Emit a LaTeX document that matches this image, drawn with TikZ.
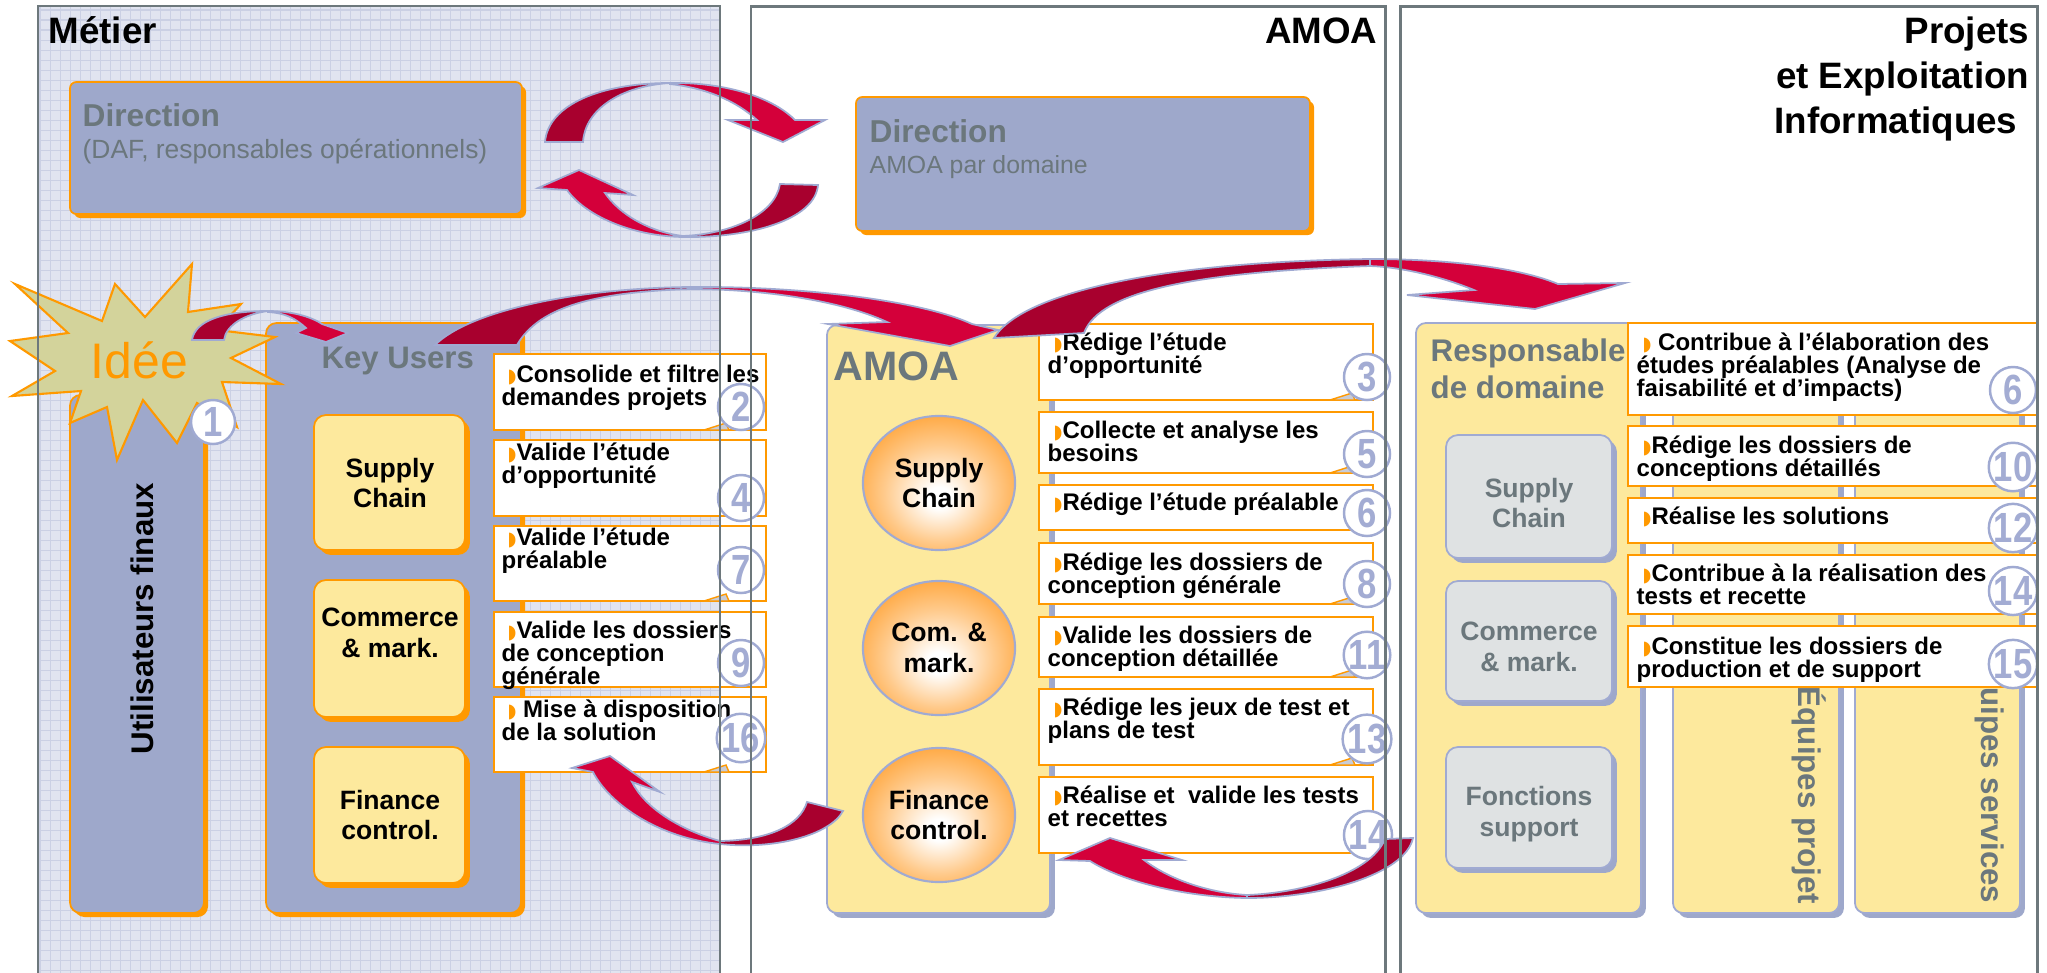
\documentclass[tikz,border=0pt]{standalone}
\usepackage{fontspec}
\usepackage{graphicx}
\setmainfont{Liberation Sans}
\newfontfamily\dejavu{DejaVu Sans}
\newfontfamily\narrowsans[FakeStretch=0.82]{Liberation Sans}
\usetikzlibrary{shadows,shapes.geometric}
\tikzset{>=latex}

\definecolor{lav}{HTML}{9EA8CB}
\definecolor{lavline}{HTML}{A0AAD2}
\definecolor{lavnum}{HTML}{A3ACD3}
\definecolor{orng}{HTML}{FF9900}
\definecolor{yel}{HTML}{FDE99D}
\definecolor{gtext}{HTML}{6B777C}
\definecolor{panelline}{HTML}{6D787C}
\definecolor{metierbg}{HTML}{E1E4F0}
\definecolor{gridcol}{HTML}{CBD0E4}
\definecolor{adark}{HTML}{A8002E}
\definecolor{alight}{HTML}{D4003A}
\definecolor{khaki}{HTML}{D3D39B}
\definecolor{greyfill}{HTML}{DFE2E3}
\definecolor{corange}{HTML}{FF961A}
\definecolor{tailgrey}{HTML}{C9CCD6}

\pgfdeclareradialshading{ballorange}{\pgfpoint{0bp}{-6bp}}{color(0bp)=(white); color(4bp)=(white); color(18bp)=(corange!50!white); color(34bp)=(corange); color(50bp)=(corange)}

\newcommand\titlefont{\fontsize{10.45}{12.8}\selectfont\bfseries}
\newcommand\dirfont{\fontsize{9}{10}\selectfont\bfseries}
\newcommand\dirsubfont{\fontsize{7.5}{9}\selectfont}
\newcommand\keyfont{\fontsize{8.85}{10.8}\selectfont\bfseries}
\newcommand\amoafont{\fontsize{11.7}{13}\selectfont\bfseries}
\newcommand\subfont{\fontsize{7.55}{8.8}\selectfont\bfseries}
\newcommand\actfont{\fontsize{6.83}{6.45}\selectfont\bfseries\lineskiplimit=-\maxdimen}
\newcommand\numfont{\narrowsans\fontsize{12}{12}\selectfont\bfseries}
\newcommand\ideefont{\fontsize{14.2}{16}\selectfont}
\newcommand\vertfont{\fontsize{8.9}{10}\selectfont\bfseries}
\newcommand\bul{\rule{0pt}{1em}\hspace*{1.7pt}{\dejavu\color{orng}\scalebox{0.7}[0.8]{◗}}}

\tikzset{
  lavbox/.style={fill=lav, draw=orng, line width=0.5pt,
    general shadow={fill=orng, shadow xshift=1.15pt, shadow yshift=-1.15pt}},
  yelbox/.style={fill=yel, draw=orng, line width=0.5pt, rounded corners=3.4pt,
    general shadow={fill=orng, shadow xshift=1.4pt, shadow yshift=-1.4pt}},
  amoabox/.style={fill=yel, draw=lavline, line width=0.5pt, rounded corners=2.8pt,
    general shadow={fill=lav, shadow xshift=1.4pt, shadow yshift=-1.4pt}},
  greybox/.style={fill=greyfill, draw=lavline, line width=0.5pt, rounded corners=3.4pt,
    general shadow={fill=lav, shadow xshift=1.4pt, shadow yshift=-1.4pt}},
  actbox/.style={fill=white, draw=orng, line width=0.6pt},
  bubbletail/.style={fill=tailgrey, draw=orng, line width=0.4pt},
  numbadge/.style={circle, draw=lavline, fill=white, line width=0.7pt, minimum size=0.46cm,
    inner sep=0pt, font=\numfont, text=lavnum},
  acttext/.style={anchor=north west, align=left, inner sep=0pt, font=\actfont},
  subtext/.style={align=center, inner sep=0pt, font=\subfont},
  ball/.style={ellipse, draw=lavline, line width=0.6pt, shading=ballorange,
    minimum width=1.52cm, minimum height=1.34cm, inner sep=0pt, align=center, font=\subfont},
  arrowdark/.style={fill=adark, draw=lavline, line width=0.5pt},
  arrowlight/.style={fill=alight, draw=lavline, line width=0.5pt},
  bigpanel/.style={draw=panelline, line width=0.85pt},
}

\begin{document}
\begin{tikzpicture}[x=0.01cm, y=-0.01cm]
\useasboundingbox (0,0) rectangle (2047,972);

% columns
\fill[metierbg] (38,6) rectangle (720,990);
\draw[gridcol, line width=0.3pt, step=0.1cm] (38,990) grid (720,6);
\fill[white] (751,6) rectangle (1385,990);
\fill[white] (1400,6) rectangle (2037,990);

\node[anchor=base west, font=\titlefont, inner sep=0pt] (metier) at (48,43) {Métier};
\node[anchor=base east, font=\titlefont, inner sep=0pt] (amoatitle) at (1378,43) {AMOA};
\node[anchor=north east, align=right, font=\titlefont, inner sep=0pt] (projets) at (2030,6.3)
  {\rule{0pt}{1em}Projets\\et Exploitation\\Informatiques\hspace*{3.4pt}};

% directions
\draw[lavbox, rounded corners=1.8pt] (70,82) rectangle (522,214);
\node[anchor=base west, inner sep=0pt, font=\dirfont, text=gtext] (dirmetier) at (82,126) {Direction};
\node[anchor=base west, inner sep=0pt, font=\dirsubfont, text=gtext] (dirmetiersub) at (82,158) {(DAF, responsables opérationnels)};
\draw[lavbox, rounded corners=1.8pt] (856,97) rectangle (1310,231);
\node[anchor=base west, inner sep=0pt, font=\dirfont, text=gtext] (diramoa) at (869,142) {Direction};
\node[anchor=base west, inner sep=0pt, font=\fontsize{7.06}{9}\selectfont, text=gtext] (diramoasub) at (869,173) {AMOA par domaine};

% metier
\draw[lavbox, rounded corners=3pt] (70,395) rectangle (204,913);
\node[anchor=base west, rotate=90, inner sep=0pt, font=\vertfont] (users) at (153,755) {Utilisateurs finaux};
\draw[lavbox, rounded corners=3pt] (266,323) rectangle (521,913);
\node[anchor=base west, inner sep=0pt, font=\keyfont, text=gtext] (keyusers) at (321,368) {Key Users};
\draw[yelbox] (314,415) rectangle (465,550);
\node[subtext] (kusupply) at (390,483) {Supply\\Chain};
\draw[yelbox] (314,580) rectangle (465,717);
\node[subtext] (kucommerce) at (390,633) {Commerce\\\& mark.};
\draw[yelbox] (314,747) rectangle (465,883);
\node[subtext] (kufinance) at (390,815) {Finance\\control.};

% idee
\draw[fill=khaki, draw=orng, line width=0.6pt] (15,284) -- (102,321) -- (115,284) -- (145,317) -- (192,264)
  -- (188,312) -- (241,304) -- (217,330) -- (275,337) -- (231,358) -- (281,384) -- (222,382)
  -- (237,427) -- (197,403) -- (177,443) -- (143,400) -- (117,460) -- (107,407) -- (70,423)
  -- (81,391) -- (12,396) -- (55,371) -- (10,341) -- (68,333) -- cycle;
\node[anchor=base west, inner sep=0pt, font=\ideefont, text=orng] (idee) at (90,378) {Idée};
\node[numbadge, minimum size=0.44cm] (n1) at (213,422) {1};

% amoa
\draw[amoabox] (827,325) rectangle (1050,913);
\node[anchor=base west, inner sep=0pt, font=\amoafont, text=gtext] (amoa) at (833,380) {AMOA};
\node[ball] (amoasupply) at (939,483) {Supply\\Chain};
\node[ball] (amoacom) at (939,648) {Com. \&\\mark.};
\node[ball] (amoafinance) at (939,815) {Finance\\control.};

% projets
\draw[amoabox] (1673,330) rectangle (1839,913);
\draw[amoabox] (1855,330) rectangle (2020,913);
\node[anchor=base east, rotate=-90, inner sep=0pt, font=\vertfont, text=gtext] (eqprojet) at (1798,905) {Équipes projet};
\node[anchor=base east, rotate=-90, inner sep=0pt, font=\vertfont, text=gtext] (eqservices) at (1981,904) {Équipes services};
\draw[amoabox] (1416,323) rectangle (1641,913);
\node[anchor=north west, align=left, inner sep=0pt, font=\fontsize{8.9}{10.8}\selectfont\bfseries, text=gtext] (resp) at (1430,329)
  {\rule{0pt}{1em}Responsable\\de domaine};
\draw[greybox] (1446,435) rectangle (1612,558);
\node[subtext, text=gtext] (prsupply) at (1529,503) {Supply\\Chain};
\draw[greybox] (1446,581) rectangle (1612,701);
\node[subtext, text=gtext] (prcommerce) at (1529,647) {Commerce\\\& mark.};
\draw[greybox] (1446,747) rectangle (1612,868);
\node[subtext, text=gtext] (prfonctions) at (1529,814) {Fonctions\\support};

% key users actions
\draw[actbox] (494,354) rectangle (766,430);
\draw[bubbletail] (704,430) -- (726,423) -- (729,430) -- cycle;
\node[acttext] (t2) at (501,358) {\bul Consolide et filtre les\\demandes projets};
\node[numbadge] (n2) at (741,407) {2};
\draw[actbox] (494,440) rectangle (766,516);
\node[acttext] (t4) at (501,436) {\bul Valide l’étude\\d’opportunité};
\node[numbadge] (n4) at (741,498) {4};
\draw[actbox] (494,526) rectangle (766,601);
\draw[bubbletail] (704,601) -- (726,594) -- (729,601) -- cycle;
\node[acttext] (t7) at (501,521) {\bul Valide l’étude\\préalable};
\node[numbadge] (n7) at (741,570) {7};
\draw[actbox] (494,612) rectangle (766,687);
\node[acttext] (t9) at (501,614) {\bul Valide les dossiers\\de conception\\générale};
\node[numbadge] (n9) at (741,663) {9};
\draw[actbox] (494,697) rectangle (766,772);
\draw[bubbletail] (704,772) -- (726,765) -- (729,772) -- cycle;
\node[acttext] (t16) at (501,693) {\bul\ Mise à disposition\\de la solution};
\node[numbadge] (n16) at (741,738) {16};

% amoa actions
\draw[actbox] (1039,324) rectangle (1373,400);
\draw[bubbletail] (1330,400) -- (1352,393) -- (1355,400) -- cycle;
\node[acttext] (t3) at (1047,326) {\bul Rédige l’étude\\d’opportunité};
\node[numbadge] (n3) at (1367,377) {3};
\draw[actbox] (1039,412) rectangle (1373,473);
\draw[bubbletail] (1330,473) -- (1352,466) -- (1355,473) -- cycle;
\node[acttext] (t5) at (1047,414) {\bul Collecte et analyse les\\besoins};
\node[numbadge] (n5) at (1367,454) {5};
\draw[actbox] (1039,485) rectangle (1373,530);
\node[acttext] (t6) at (1047,486) {\bul Rédige l’étude préalable};
\node[numbadge] (n6) at (1367,513) {6};
\draw[actbox] (1039,543) rectangle (1373,604);
\draw[bubbletail] (1330,604) -- (1352,597) -- (1355,604) -- cycle;
\node[acttext] (t8) at (1047,546) {\bul Rédige les dossiers de\\conception générale};
\node[numbadge] (n8) at (1367,584) {8};
\draw[actbox] (1039,617) rectangle (1373,677);
\draw[bubbletail] (1330,677) -- (1352,670) -- (1355,677) -- cycle;
\node[acttext] (t11) at (1047,619) {\bul Valide les dossiers de\\conception détaillée};
\node[numbadge] (n11) at (1367,655) {11};
\draw[actbox] (1039,689) rectangle (1373,765);
\draw[bubbletail] (1330,765) -- (1352,758) -- (1355,765) -- cycle;
\node[acttext] (t13) at (1047,691) {\bul Rédige les jeux de test et\\plans de test};
\node[numbadge] (n13) at (1367,739) {13};
\draw[actbox] (1039,777) rectangle (1373,853);
\node[acttext] (t14) at (1047,779) {\bul Réalise et\ \ valide les tests\\et recettes};
\node[numbadge] (n14) at (1368,835) {14};

% projets actions
\draw[actbox] (1628,323) rectangle (2037,415);
\node[acttext] (p6) at (1636,326) {\bul\ Contribue à l’élaboration des\\études préalables (Analyse de\\faisabilité et d’impacts)};
\node[numbadge] (m6) at (2013,390) {6};
\draw[actbox] (1628,426) rectangle (2037,486);
\node[acttext] (p10) at (1636,429) {\bul Rédige les dossiers de\\conceptions détaillés};
\node[numbadge] (m10) at (2013,467) {10};
\draw[actbox] (1628,498) rectangle (2037,543);
\node[acttext] (p12) at (1636,500) {\bul Réalise les solutions};
\node[numbadge] (m12) at (2013,528) {12};
\draw[actbox] (1628,555) rectangle (2037,614);
\node[acttext] (p14) at (1636,557) {\bul Contribue à la réalisation des\\tests et recette};
\node[numbadge] (m14) at (2013,591) {14};
\draw[actbox] (1628,626) rectangle (2037,687);
\node[acttext] (p15) at (1636,630) {\bul Constitue les dossiers de\\production et de support};
\node[numbadge] (m15) at (2013,664) {15};

% arrows: direction loop
\draw[arrowdark] (545,142) .. controls (548,105) and (600,83) .. (670,83)
  .. controls (620,86) and (585,110) .. (583,142) -- cycle;
\draw[arrowlight] (670,83) .. controls (720,82) and (770,95) .. (795,120) -- (825,120) -- (783,142)
  -- (728,120) -- (757,120) .. controls (735,100) and (705,88) .. (670,84) -- cycle;
\draw[arrowdark] (780,184) .. controls (775,215) and (730,234) .. (683,236)
  -- (683,237) .. controls (750,238) and (815,220) .. (818,185) -- cycle;
\draw[arrowlight] (683,237) .. controls (630,236) and (585,215) .. (567,190) -- (538,188) -- (579,170)
  -- (633,195) -- (605,193) .. controls (620,215) and (650,232) .. (683,236) -- cycle;

% idee -> key users
\draw[arrowdark] (192,340) .. controls (195,320) and (225,311) .. (268,311)
  .. controls (245,314) and (226,325) .. (224,340) -- cycle;
\draw[arrowlight] (268,311) .. controls (290,311) and (310,316) .. (322,324) -- (348,333) -- (326,342)
  -- (296,333) -- (306,328) .. controls (295,318) and (285,313) .. (268,312) -- cycle;

% key users -> amoa
\draw[arrowdark] (435,345) .. controls (470,310) and (580,288) .. (690,287)
  -- (690,289) .. controls (600,292) and (540,305) .. (517,345) -- cycle;
\draw[arrowlight] (690,287) .. controls (800,286) and (920,300) .. (972,324) -- (998,330) -- (950,346)
  -- (828,324) -- (887,322) .. controls (840,300) and (760,289) .. (690,289) -- cycle;

% amoa -> projets
\draw[arrowdark] (994,338) .. controls (1020,295) and (1150,262) .. (1370,259)
  -- (1370,266) .. controls (1200,272) and (1100,290) .. (1084,333) -- cycle;
\draw[arrowlight] (1370,259) .. controls (1450,259) and (1520,268) .. (1558,284) -- (1625,283) -- (1535,309)
  -- (1407,295) -- (1474,290) .. controls (1440,276) and (1400,267) .. (1370,266) -- cycle;

% amoa -> mise a disposition
\draw[arrowdark] (807,802) .. controls (800,825) and (770,840) .. (720,841)
  -- (720,844) .. controls (775,850) and (830,835) .. (843,811) -- cycle;
\draw[arrowlight] (720,844) .. controls (660,838) and (610,805) .. (593,772) -- (572,768) -- (610,756)
  -- (660,792) -- (632,782) .. controls (645,808) and (680,830) .. (720,841) -- cycle;

% projets -> tests
\draw[arrowdark] (1385,839) .. controls (1370,875) and (1300,893) .. (1247,895)
  -- (1247,898) .. controls (1320,898) and (1405,875) .. (1413,838) -- cycle;
\draw[arrowlight] (1247,898) .. controls (1180,897) and (1120,880) .. (1090,861) -- (1059,860) -- (1110,838)
  -- (1182,860) -- (1144,860) .. controls (1170,880) and (1210,893) .. (1247,895) -- cycle;

% column borders
\draw[panelline, line width=0.45pt] (38,990) -- (38,6) -- (720,6) -- (720,990);
\draw[bigpanel] (751,990) -- (751,6) -- (1385,6) -- (1385,990);
\draw[bigpanel] (1400,990) -- (1400,6) -- (2037,6) -- (2037,990);
\end{tikzpicture}
\end{document}
